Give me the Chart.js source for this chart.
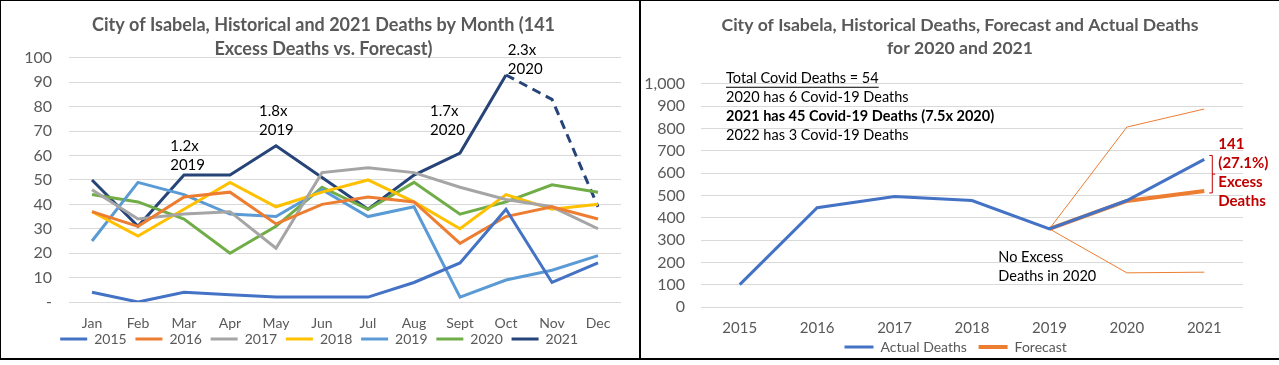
<!DOCTYPE html>
<html>
<head>
<meta charset="utf-8">
<script src="https://cdn.jsdelivr.net/npm/chart.js@4.4.1/dist/chart.umd.min.js"></script>
<style>
  body { margin: 0; background: #fff; }
  #wrap { position: relative; width: 1279px; height: 365px; background: #fff; }
  #leftBox { position: absolute; left: 0; top: 0; width: 638px; height: 357px;
    border-left: 1px solid #000; border-top: 1px solid #000; border-bottom: 2px solid #000; border-right: 2px solid #000; }
  #rightBox { position: absolute; left: 641px; top: 0; width: 638px; height: 357px;
    border-top: 1px solid #000; border-bottom: 2px solid #000; }
  canvas { display: block; }
</style>
</head>
<body>
<div id="wrap">
  <div id="leftBox"><canvas id="monthChart" width="637" height="357"></canvas></div>
  <div id="rightBox"><canvas id="yearChart" width="638" height="357"></canvas></div>
</div>
<script>
// ---- monthly deaths (left chart)
const months = ["Jan", "Feb", "Mar", "Apr", "May", "Jun", "Jul", "Aug", "Sept", "Oct", "Nov", "Dec"];
const deaths2015 = [4, 0, 4, 3, 2, 2, 2, 8, 16, 38, 8, 16];
const deaths2016 = [37, 31, 43, 45, 32, 40, 43, 41, 24, 35, 39, 34];
const deaths2017 = [46, 34, 36, 37, 22, 53, 55, 53, 47, 42, 39, 30];
const deaths2018 = [37, 27, 38, 49, 39, 45, 50, 41, 30, 44, 38, 40];
const deaths2019 = [25, 49, 44, 36, 35, 46, 35, 39, 2, 9, 13, 19];
const deaths2020 = [44, 41, 34, 20, 31, 47, 38, 49, 36, 41, 48, 45];
const deaths2021 = [50, 31, 52, 52, 64, 51, 38, 52, 61, 93, 83, 39];
const dashFromIndex = 9; // Oct onwards is dashed (partial months)

// ratio notes on the 2021 line: [x index, y value, lines]
const monthNotes = [
  [1.7, 64, ["1.2x", "2019"]],
  [3.63, 78, ["1.8x", "2019"]],
  [7.35, 78, ["1.7x", "2020"]],
  [9.04, 103, ["2.3x", "2020"]]
];

// ---- yearly deaths (right chart)
const years = ["2015", "2016", "2017", "2018", "2019", "2020", "2021"];
const actualDeaths = [100, 445, 495, 477, 350, 477, 661];
const forecast = [null, null, null, null, 350, 475, 520];
const forecastHigh = [null, null, null, null, 350, 806, 887];
const forecastLow = [null, null, null, null, 350, 153, 156];

const covidLines = [
  "Total Covid Deaths = 54",
  "2020 has 6 Covid-19 Deaths",
  "2021 has 45 Covid-19 Deaths (7.5x 2020)",
  "2022 has 3 Covid-19 Deaths"
];
const excessLines = ["141", "(27.1%)", "Excess", "Deaths"];
const noExcessLines = ["No Excess", "Deaths in 2020"];

const FONT = "Lato, 'Open Sans', sans-serif";
const GRAY = "#595959";
const RED = "#C00000";
const GAP = "\u2002\u2009"; // extra room between legend entries

function line(label, data, color, width) {
  return {
    label: label,
    data: data,
    borderColor: color,
    backgroundColor: color,
    borderWidth: width || 3,
    pointRadius: 0,
    pointStyle: "line",
    tension: 0,
    fill: false
  };
}

function spacedLabels(chart) {
  return Chart.defaults.plugins.legend.labels.generateLabels(chart)
    .map(item => Object.assign(item, { text: item.text + GAP }));
}

// blank axis used only to keep a margin right of the plot
function rightMargin(width) {
  return {
    type: "linear",
    position: "right",
    grid: { display: false, drawTicks: false },
    border: { display: false },
    ticks: { display: false },
    afterFit: s => { s.width = width; }
  };
}

const navy = line("2021", deaths2021, "#264478");
navy.segment = { borderDash: ctx => ctx.p0DataIndex >= dashFromIndex ? [9, 6] : undefined };

const monthNotesPlugin = {
  id: "monthNotes",
  afterDatasetsDraw(chart) {
    const { ctx, scales: { x, y } } = chart;
    ctx.save();
    ctx.fillStyle = "#000";
    ctx.font = "15px " + FONT;
    ctx.textAlign = "left";
    ctx.textBaseline = "middle";
    monthNotes.forEach(([xi, v, lines]) => {
      const px = x.getPixelForValue(xi);
      const py = y.getPixelForValue(v);
      lines.forEach((t, i) => ctx.fillText(t, px, py + i * 19));
    });
    ctx.restore();
  }
};

new Chart(document.getElementById("monthChart").getContext("2d"), {
  type: "line",
  data: {
    labels: months,
    datasets: [
      line("2015", deaths2015, "#4472C4"),
      line("2016", deaths2016, "#ED7D31"),
      line("2017", deaths2017, "#A5A5A5"),
      line("2018", deaths2018, "#FFC000"),
      line("2019", deaths2019, "#5B9BD5"),
      line("2020", deaths2020, "#70AD47"),
      navy
    ]
  },
  options: {
    responsive: false,
    animation: false,
    layout: { padding: { left: 8, right: 0, top: 0, bottom: 2 } },
    plugins: {
      title: {
        display: true,
        text: ["City of Isabela, Historical and 2021 Deaths by Month (141", "Excess Deaths vs. Forecast)"],
        color: GRAY,
        font: { family: FONT, size: 18, weight: "bold", lineHeight: 1.33 },
        padding: { top: 12, bottom: -3 }
      },
      legend: {
        position: "bottom",
        labels: {
          usePointStyle: true,
          pointStyleWidth: 27,
          padding: 0,
          color: GRAY,
          font: { family: FONT, size: 14 },
          generateLabels: spacedLabels
        }
      },
      tooltip: { enabled: false }
    },
    scales: {
      x: {
        offset: true,
        grid: { display: false, drawTicks: false },
        border: { display: false },
        ticks: { color: GRAY, font: { family: FONT, size: 14, lineHeight: 1 }, padding: 14, maxRotation: 0 },
        afterFit: s => { s.height = 30; }
      },
      y: {
        min: 0,
        max: 100,
        grid: { color: "#D9D9D9", drawTicks: false },
        border: { display: false },
        ticks: {
          stepSize: 10,
          autoSkip: false,
          color: GRAY,
          font: { family: FONT, size: 16 },
          padding: 17,
          callback: v => v === 0 ? "-" : v
        },
        afterFit: s => { s.width = 60; }
      },
      margin: rightMargin(17)
    }
  },
  plugins: [monthNotesPlugin]
});

const yearNotesPlugin = {
  id: "yearNotes",
  afterDatasetsDraw(chart) {
    const { ctx, chartArea, scales: { x, y } } = chart;
    ctx.save();
    ctx.textAlign = "left";
    ctx.textBaseline = "middle";

    // covid summary box
    const bx = chartArea.left + 25;
    const by = chartArea.top - 5;
    covidLines.forEach((t, i) => {
      ctx.font = (i === 2 ? "bold " : "") + "14.5px " + FONT;
      ctx.fillStyle = "#000";
      const yy = by + i * 18.7;
      ctx.fillText(t, bx, yy);
      if (i === 0) {
        const w = ctx.measureText(t).width;
        ctx.fillRect(bx, yy + 8, w, 1);
      }
    });

    // no excess note
    ctx.font = "14.5px " + FONT;
    const nx = x.getPixelForValue(3.34);
    noExcessLines.forEach((t, i) => ctx.fillText(t, nx, y.getPixelForValue(221) + i * 19));

    // excess bracket + label
    const last = years.length - 1;
    const top = y.getPixelForValue(actualDeaths[last]) - 4;
    const bot = y.getPixelForValue(forecast[last]) + 2;
    const brx = x.getPixelForValue(last) + 8;
    ctx.strokeStyle = RED;
    ctx.lineWidth = 1;
    ctx.beginPath();
    ctx.moveTo(brx - 3, top); ctx.lineTo(brx, top); ctx.lineTo(brx, bot); ctx.lineTo(brx - 3, bot);
    ctx.moveTo(brx, (top + bot) / 2); ctx.lineTo(brx + 3, (top + bot) / 2);
    ctx.stroke();

    ctx.fillStyle = RED;
    ctx.font = "bold 15px " + FONT;
    const ex = x.getPixelForValue(last) + 14;
    const ey = y.getPixelForValue(730);
    excessLines.forEach((t, i) => ctx.fillText(t, ex, ey + i * 19));
    ctx.restore();
  }
};

new Chart(document.getElementById("yearChart").getContext("2d"), {
  type: "line",
  data: {
    labels: years,
    datasets: [
      line("Actual Deaths", actualDeaths, "#4472C4", 3),
      line("Forecast", forecast, "#ED7D31", 4),
      line("High", forecastHigh, "#ED7D31", 1),
      line("Low", forecastLow, "#ED7D31", 1)
    ]
  },
  options: {
    responsive: false,
    animation: false,
    layout: { padding: 0 },
    plugins: {
      title: {
        display: true,
        text: ["City of Isabela, Historical Deaths, Forecast and Actual Deaths", "for 2020 and 2021"],
        color: GRAY,
        font: { family: FONT, size: 17.6, weight: "bold", lineHeight: 1.3 },
        padding: { top: 13, bottom: 24 }
      },
      legend: {
        position: "bottom",
        maxHeight: 21,
        labels: {
          usePointStyle: true,
          pointStyleWidth: 29,
          padding: 3,
          color: GRAY,
          font: { family: FONT, size: 14 },
          filter: item => item.text.trim() === "Actual Deaths" || item.text.trim() === "Forecast",
          generateLabels: spacedLabels
        }
      },
      tooltip: { enabled: false }
    },
    scales: {
      x: {
        offset: true,
        grid: { display: false, drawTicks: false },
        border: { display: false },
        ticks: { color: GRAY, font: { family: FONT, size: 15, lineHeight: 1 }, padding: 14, maxRotation: 0 },
        afterFit: s => { s.height = 30; }
      },
      y: {
        min: 0,
        max: 1000,
        grid: { color: "#D9D9D9", drawTicks: false },
        border: { display: false },
        ticks: {
          stepSize: 100,
          autoSkip: false,
          color: GRAY,
          font: { family: FONT, size: 16 },
          padding: 16,
          callback: v => v.toLocaleString("en-US")
        },
        afterFit: s => { s.width = 60; }
      },
      margin: rightMargin(36)
    }
  },
  plugins: [yearNotesPlugin]
});
</script>
</body>
</html>
